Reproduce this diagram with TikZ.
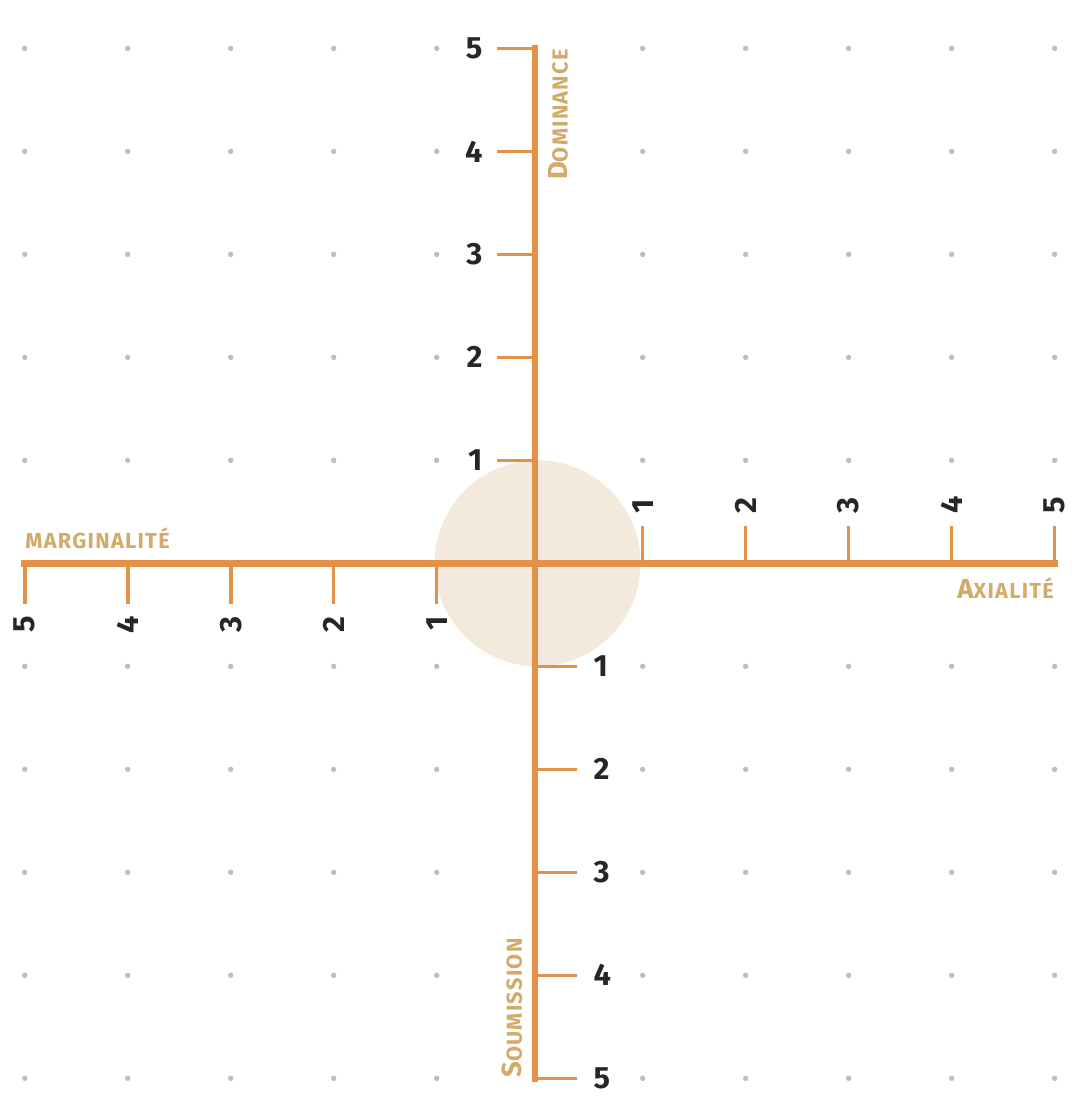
\documentclass[tikz,border=0pt]{standalone}
\usepackage{fontspec}
\setmainfont{Fira Sans}
\usepackage{tikz}
\usetikzlibrary{positioning}

\definecolor{axisorange}{RGB}{226,145,70}
\definecolor{labeltan}{RGB}{210,170,105}
\definecolor{discbeige}{RGB}{243,234,221}
\definecolor{dotgray}{RGB}{190,190,190}

% first letter a little larger, the rest spaced small capitals
\newcommand{\axlabel}[2]{{\bfseries\fontsize{7.6}{8}\selectfont #1}{\bfseries\fontsize{6.0}{7}\selectfont\addfontfeature{LetterSpace=6}#2}}

\begin{document}
\begin{tikzpicture}[
    axis/.style={axisorange, line width=1.8pt, line cap=rect},
    tick/.style={axisorange, line width=1pt},
    num/.style={font=\fontsize{8.5}{9}\selectfont\bfseries, text=black!85, inner sep=1pt},
    axname/.style={text=labeltan, inner sep=0pt},
    gdot/.style={circle, fill=dotgray, inner sep=0pt, minimum size=1.5pt},
]
\useasboundingbox (-5.24,-5.23) rectangle (5.35,5.47);

% --- Dot grid ---
\foreach \i in {-5,...,-1,1,2,...,5}
  \foreach \j in {-5,...,-1,1,2,...,5}
    \node[gdot] (d\i\j) at (\i,\j) {};

% --- Disc at the origin ---
\node[circle, fill=discbeige, minimum size=2cm, inner sep=0pt] (disc) at (-0.02,0) {};

% --- Axes ---
\coordinate (west) at (-5,0);
\coordinate (east) at (5,0);
\coordinate (north) at (-0.045,5);
\coordinate (south) at (-0.045,-5);
\draw[axis] (west) -- (east);
\draw[axis] (north) -- (south);

% --- Ticks ---
\foreach \k in {1,...,5} {
  \draw[tick] (-0.045,\k) -- ++(-0.37,0) node[num, left=2.5pt] (up\k) {\k};
  \draw[tick] (-0.045,-\k) -- ++(0.41,0) node[num, right=3pt] (down\k) {\k};
  \draw[tick] (\k,0) -- ++(0,0.36) node[num, rotate=90, anchor=west, xshift=2pt] (right\k) {\k};
  \draw[tick] (-\k,0) -- ++(0,-0.39) node[num, rotate=90, anchor=east, xshift=-2pt] (left\k) {\k};
}

% --- Axis names ---
\node[axname, rotate=90, anchor=north east] (dominance) at (0.08,5) {\axlabel{D}{OMINANCE}};
\node[axname, rotate=90, anchor=south west] (soumission) at (-0.16,-5) {\axlabel{S}{OUMISSION}};
\node[axname, anchor=south west] (marginalite) at (-5,0.13) {\axlabel{}{MARGINALITÉ}};
\node[axname, anchor=north east] (axialite) at (5,-0.13) {\axlabel{A}{XIALITÉ}};

\end{tikzpicture}
\end{document}
